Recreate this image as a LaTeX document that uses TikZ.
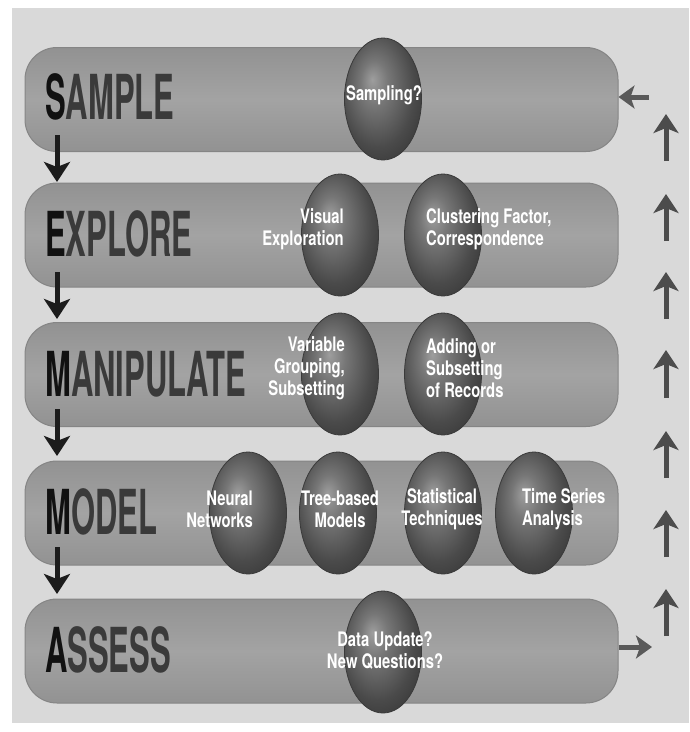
\documentclass[tikz,border=0pt]{standalone}
\usepackage{fontspec}
\setmainfont{TeX Gyre Heros}
\newfontfamily\stagefont[FakeStretch=0.5]{TeX Gyre Heros}
\newfontfamily\ballfont[FakeStretch=0.74]{TeX Gyre Heros}
\usetikzlibrary{shapes.geometric,arrows.meta}
\definecolor{panel}{HTML}{D9D9D9}
\definecolor{bartop}{HTML}{929292}
\definecolor{barmid}{HTML}{A3A3A3}
\definecolor{barline}{HTML}{858585}
\definecolor{sphhi}{HTML}{9E9E9E}
\definecolor{sphmid}{HTML}{777777}
\definecolor{sphlo}{HTML}{4A4A4A}
\definecolor{sphdark}{HTML}{3A3A3A}
\definecolor{sphline}{HTML}{3A3A3A}
\definecolor{stagefirst}{HTML}{111111}
\definecolor{stagerest}{HTML}{3A3A3A}
\definecolor{downcol}{HTML}{1C1C1C}
\definecolor{upcol}{HTML}{4C4C4C}
\definecolor{sidecol}{HTML}{5A5A5A}
\pgfdeclareradialshading{sphereshade}{\pgfpoint{-7bp}{8bp}}{color(0bp)=(sphhi);color(9bp)=(sphmid);color(24bp)=(sphlo);color(32bp)=(sphdark);color(50bp)=(sphdark)}
\newcommand\stg[2]{{\color{stagefirst}#1}#2}
\tikzset{
  bar/.style={rectangle, rounded corners=32pt, draw=barline, line width=1pt,
    top color=bartop, bottom color=bartop, middle color=barmid,
    minimum width=593pt, minimum height=104pt, inner sep=0pt},
  stagelbl/.style={anchor=west, inner sep=0pt, text=stagerest,
    font=\stagefont\bfseries\fontsize{62}{62}\selectfont},
  ball/.style={ellipse, draw=sphline, line width=0.8pt, shading=sphereshade,
    minimum width=77pt, minimum height=122pt, inner sep=0pt},
  balltxt/.style={inner sep=0pt, text=white,
    font=\ballfont\bfseries\fontsize{20}{22}\selectfont},
  downarr/.style={draw=downcol, line width=5pt,
    -{Stealth[length=20pt,width=26pt,inset=5pt]}},
  uparr/.style={draw=upcol, line width=5pt,
    -{Stealth[length=19pt,width=25pt,inset=5pt]}},
  sidearr/.style={draw=sidecol, line width=5pt,
    -{Stealth[length=16pt,width=23pt,inset=4pt]}}
}
\begin{document}
\begin{tikzpicture}[x=1pt,y=-1pt]
\useasboundingbox (0,0) rectangle (690,732);
\fill[white] (0,0) rectangle (690,732);
\fill[panel] (12,8) rectangle (689,723);
% bars
\node[bar] (bsample) at (321.5,99.5) {};
\node[bar] (bexplore) at (321.5,235) {};
\node[bar] (bmanip) at (321.5,374.5) {};
\node[bar] (bmodel) at (321.5,513) {};
\node[bar] (bassess) at (321.5,651) {};
% stage labels
\node[stagelbl] (lsample) at (45,97) {\stg{S}{AMPLE}};
\node[stagelbl] (lexplore) at (45,234) {\stg{E}{XPLORE}};
\node[stagelbl] (lmanip) at (45,374) {\stg{M}{ANIPULATE}};
\node[stagelbl] (lmodel) at (45,512) {\stg{M}{ODEL}};
\node[stagelbl] (lassess) at (45,650) {\stg{A}{SSESS}};
% spheres
\node[ball] (s1) at (383,99) {};
\node[ball] (e1) at (340,235) {};
\node[ball] (e2) at (443,235) {};
\node[ball] (m1) at (340,374) {};
\node[ball] (m2) at (443,374) {};
\node[ball] (d1) at (248,513) {};
\node[ball] (d2) at (338,513) {};
\node[ball] (d3) at (443,513) {};
\node[ball] (d4) at (534,513) {};
\node[ball] (a1) at (383,652) {};
% sphere texts
\node[balltxt] (ts1) at (384,95) {Sampling?};
\node[balltxt, anchor=east, align=right] (te1) at (344,229) {Visual\\Exploration};
\node[balltxt, anchor=west, align=left] (te2) at (426,229) {Clustering Factor,\\Correspondence};
\node[balltxt, anchor=east, align=right] (tm1) at (345,368) {Variable\\Grouping,\\Subsetting};
\node[balltxt, anchor=west, align=left] (tm2) at (426,368) {Adding or\\Subsetting\\of Records};
\node[balltxt, anchor=east, align=right] (td1) at (253,509) {Neural\\Networks};
\node[balltxt, align=center] (td2) at (340,509) {Tree-based\\Models};
\node[balltxt, align=center] (td3) at (442,509) {Statistical\\Techniques};
\node[balltxt, anchor=west, align=left] (td4) at (522,509) {Time Series\\Analysis};
\node[balltxt, align=center] (ta1) at (385,650) {Data Update?\\New Questions?};
% arrow end points
\coordinate (dn1a) at (57,135); \coordinate (dn1b) at (57,182);
\coordinate (dn2a) at (57,272); \coordinate (dn2b) at (57,319);
\coordinate (dn3a) at (57,409); \coordinate (dn3b) at (57,456);
\coordinate (dn4a) at (57,547); \coordinate (dn4b) at (57,594);
\draw[downarr] (dn1a) -- (dn1b);
\draw[downarr] (dn2a) -- (dn2b);
\draw[downarr] (dn3a) -- (dn3b);
\draw[downarr] (dn4a) -- (dn4b);
\coordinate (up1a) at (666,161); \coordinate (up1b) at (666,114);
\coordinate (up2a) at (666,241); \coordinate (up2b) at (666,194);
\coordinate (up3a) at (666,319); \coordinate (up3b) at (666,272);
\coordinate (up4a) at (666,398); \coordinate (up4b) at (666,350);
\coordinate (up5a) at (666,478); \coordinate (up5b) at (666,431);
\coordinate (up6a) at (666,557); \coordinate (up6b) at (666,510);
\coordinate (up7a) at (666,636); \coordinate (up7b) at (666,589);
\draw[uparr] (up1a) -- (up1b);
\draw[uparr] (up2a) -- (up2b);
\draw[uparr] (up3a) -- (up3b);
\draw[uparr] (up4a) -- (up4b);
\draw[uparr] (up5a) -- (up5b);
\draw[uparr] (up6a) -- (up6b);
\draw[uparr] (up7a) -- (up7b);
\coordinate (intop) at (649,97);
\draw[sidearr] (intop) -- (bsample.east |- intop);
\coordinate (outbot) at (652,647);
\draw[sidearr] (bassess.east |- outbot) -- (outbot);
\end{tikzpicture}
\end{document}
